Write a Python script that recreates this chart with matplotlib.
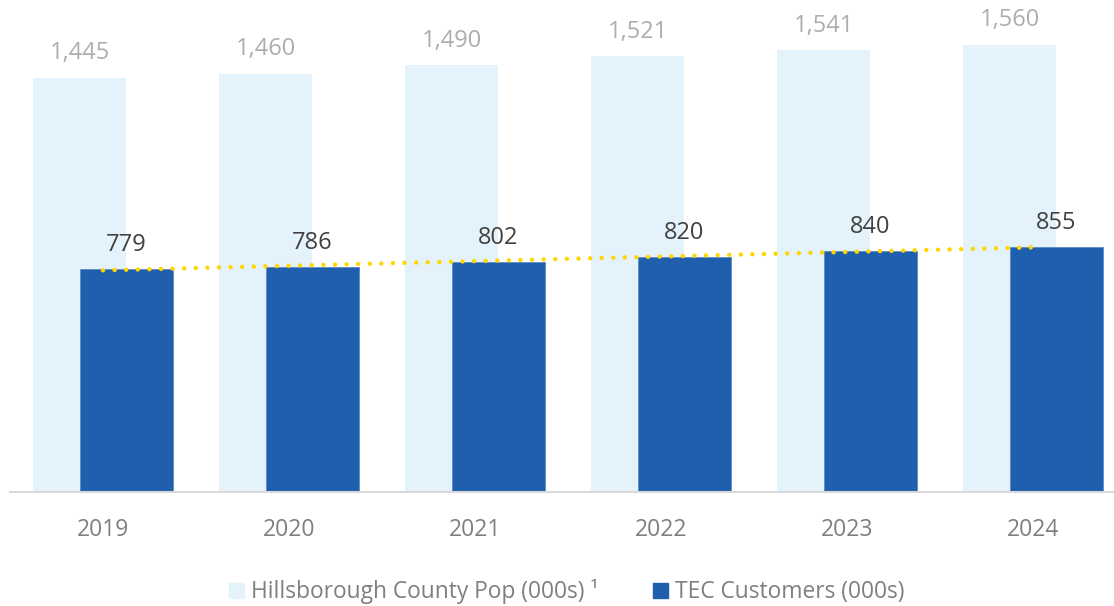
import numpy as np
import matplotlib
matplotlib.use("Agg")
import matplotlib.pyplot as plt
from matplotlib.patches import Patch

years = ["2019", "2020", "2021", "2022", "2023", "2024"]
population = [1445, 1460, 1490, 1521, 1541, 1560]
customers = [779, 786, 802, 820, 840, 855]
pop_labels = ["1,445", "1,460", "1,490", "1,521", "1,541", "1,560"]

plt.rcParams['font.family'] = ['Open Sans', 'DejaVu Sans']

fig = plt.figure(figsize=(11.14, 6.06), dpi=100)
ax = fig.add_axes([10/1114, 114/606, 1 - 10/1114, 492/606])

x = np.arange(len(years))
w = 0.5
off = 0.125
light = "#E4F2FB"
dark = "#1F5FAD"

ax.bar(x - off, population, width=w, color=light, zorder=1)
ax.bar(x + off, customers, width=w, color=dark, edgecolor="#5B8BC9", linewidth=0.6, zorder=2)

coef = np.polyfit(x, customers, 1)
ax.plot(x, np.polyval(coef, x), linestyle=(0, (0.01, 2.6)), dash_capstyle='round',
        color="#FFD700", linewidth=3.2, zorder=3)

for xi, p, lab in zip(x, population, pop_labels):
    ax.annotate(lab, (xi - off, p), xytext=(0, 9), textcoords="offset points",
                ha="center", va="bottom", fontsize=17, color="#ADADAD")
for xi, c in zip(x, customers):
    ax.annotate(f"{c}", (xi + off, c), xytext=(0, 8.5), textcoords="offset points",
                ha="center", va="bottom", fontsize=17, color="#404040")

ax.set_xlim(-0.5, -0.5 + 1104/186)
ax.set_ylim(0, 1717)
ax.set_xticks(x)
ax.set_xticklabels(years, fontsize=16.5, color="#7F7F7F")
ax.tick_params(axis="x", length=0, pad=19)
ax.set_yticks([])
for s in ["top", "right", "left"]:
    ax.spines[s].set_visible(False)
ax.spines["bottom"].set_color("#D9D9D9")
ax.spines["bottom"].set_linewidth(1.5)

handles = [Patch(color=light), Patch(color=dark)]
labels = ["Hillsborough County Pop (000s) \u00b9", "TEC Customers (000s)"]
fig.legend(handles, labels, loc="center", bbox_to_anchor=(567/1114, 1 - 592/606),
           ncol=2, frameon=False, fontsize=16.4, labelcolor="#7F7F7F",
           handlelength=0.66, handleheight=0.66, handletextpad=0.3, columnspacing=2.4)

fig.savefig("out.png", dpi=100)
